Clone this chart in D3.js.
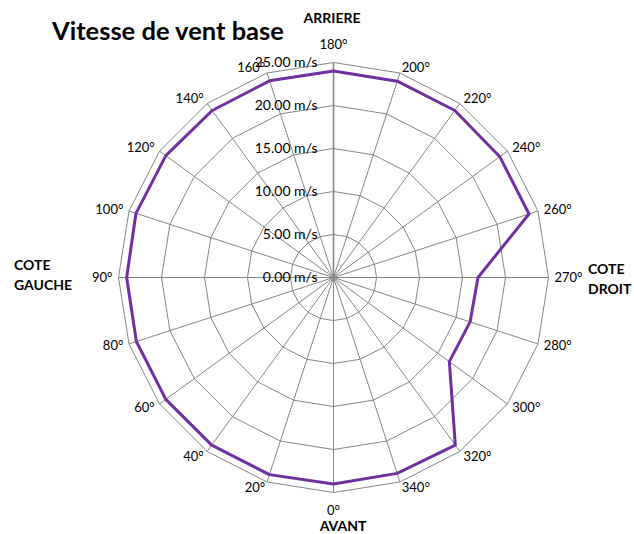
<!DOCTYPE html>
<html lang="fr">
    <head>
        <meta charset="UTF-8">
        <script src="https://cdnjs.cloudflare.com/ajax/libs/d3/7.8.5/d3.min.js"></script>
        <title>Vitesse de vent base</title>
        <style>
            body { margin: 0; background: #fff; }
            text { font-family: Lato, "Noto Sans", sans-serif; fill: #000; }
        </style>
    </head>
    <body>
        <script type="text/javascript">
            // Data
            var directions = ["0°", "20°", "40°", "60°", "80°", "90°", "100°", "120°", "140°", "160°",
                              "180°", "200°", "220°", "240°", "260°", "270°", "280°", "300°", "320°", "340°"];
            var speeds = [24.0, 24.1, 24.1, 24.1, 24.1, 24.05, 24.15, 24.1, 24.0, 24.05,
                          24.0, 24.0, 24.0, 23.9, 23.9, 16.8, 16.7, 16.65, 24.1, 23.95];
            var ticks = [0, 5, 10, 15, 20, 25];

            var width = 634, height = 534;
            var cx = 333.5, cy = 277.5;
            var R = 215;

            var svg = d3.select("body")
                .append("svg")
                .attr("width", width)
                .attr("height", height);

            var g = svg.append("g")
                .attr("transform", "translate(" + cx + "," + cy + ")");

            // Scales: radius for speed, angle for each direction (0° at bottom, going clockwise on screen)
            var rScale = d3.scaleLinear().domain([0, 25]).range([0, R]);
            var aScale = d3.scaleLinear()
                .domain([0, directions.length])
                .range([Math.PI, 3 * Math.PI]);

            function px(a, r) { return r * Math.sin(a); }
            function py(a, r) { return -r * Math.cos(a); }

            var idx = d3.range(directions.length);

            // Grid polygons
            var gridLine = d3.lineRadial()
                .angle(function(i) { return aScale(i); })
                .curve(d3.curveLinearClosed);

            g.selectAll(".ring")
                .data(ticks.slice(1))
                .enter()
                .append("path")
                .attr("class", "ring")
                .attr("fill", "none")
                .attr("stroke", "#868686")
                .attr("stroke-width", 1)
                .attr("d", function(t) {
                    return gridLine.radius(rScale(t))(idx);
                });

            // Spokes
            g.selectAll(".spoke")
                .data(idx)
                .enter()
                .append("line")
                .attr("class", "spoke")
                .attr("x1", 0)
                .attr("y1", 0)
                .attr("x2", function(i) { return px(aScale(i), R); })
                .attr("y2", function(i) { return py(aScale(i), R); })
                .attr("stroke", "#868686")
                .attr("stroke-width", function(i) { return i === 10 ? 1.6 : 1; });

            // Value axis labels
            g.selectAll(".tick-label")
                .data(ticks)
                .enter()
                .append("text")
                .attr("class", "tick-label")
                .attr("x", -16)
                .attr("y", function(t) { return -rScale(t); })
                .attr("dy", "0.35em")
                .attr("text-anchor", "end")
                .style("font-size", "14px")
                .text(function(t) { return t.toFixed(2) + " m/s"; });

            // Category labels
            g.selectAll(".cat-label")
                .data(idx)
                .enter()
                .append("text")
                .attr("class", "cat-label")
                .attr("x", function(i) { return px(aScale(i), R + 6); })
                .attr("y", function(i) {
                    var y = py(aScale(i), R + 6);
                    var s = Math.sin(aScale(i));
                    if (Math.abs(s) < 0.01) y += (y > 0 ? 12 : -12);
                    return y;
                })
                .attr("dy", "0.35em")
                .attr("text-anchor", function(i) {
                    var s = Math.sin(aScale(i));
                    if (Math.abs(s) < 0.01) return "middle";
                    return s > 0 ? "start" : "end";
                })
                .style("font-size", "13px")
                .text(function(i) { return directions[i]; });

            // Data series
            var speedLine = d3.lineRadial()
                .angle(function(d, i) { return aScale(i); })
                .radius(function(d) { return rScale(d); })
                .curve(d3.curveLinearClosed);

            g.append("path")
                .datum(speeds)
                .attr("fill", "none")
                .attr("stroke", "#7030a0")
                .attr("stroke-width", 3)
                .attr("stroke-linejoin", "round")
                .attr("d", speedLine);

            // Title and side labels
            svg.append("text")
                .attr("x", 52)
                .attr("y", 40)
                .style("font-size", "25.5px")
                .style("font-weight", "bold")
                .text("Vitesse de vent base");

            svg.append("text")
                .attr("x", 332)
                .attr("y", 23)
                .attr("text-anchor", "middle")
                .style("font-size", "14px")
                .style("font-weight", "bold")
                .text("ARRIERE");

            svg.append("text")
                .attr("x", 343)
                .attr("y", 531)
                .attr("text-anchor", "middle")
                .style("font-size", "14px")
                .style("font-weight", "bold")
                .text("AVANT");

            var left = svg.append("text")
                .style("font-size", "14px")
                .style("font-weight", "bold");
            left.append("tspan").attr("x", 14).attr("y", 270).text("COTE");
            left.append("tspan").attr("x", 14).attr("y", 290).text("GAUCHE");

            var right = svg.append("text")
                .style("font-size", "14px")
                .style("font-weight", "bold");
            right.append("tspan").attr("x", 588).attr("y", 274).text("COTE");
            right.append("tspan").attr("x", 588).attr("y", 294).text("DROIT");
        </script>
    </body>
</html>
